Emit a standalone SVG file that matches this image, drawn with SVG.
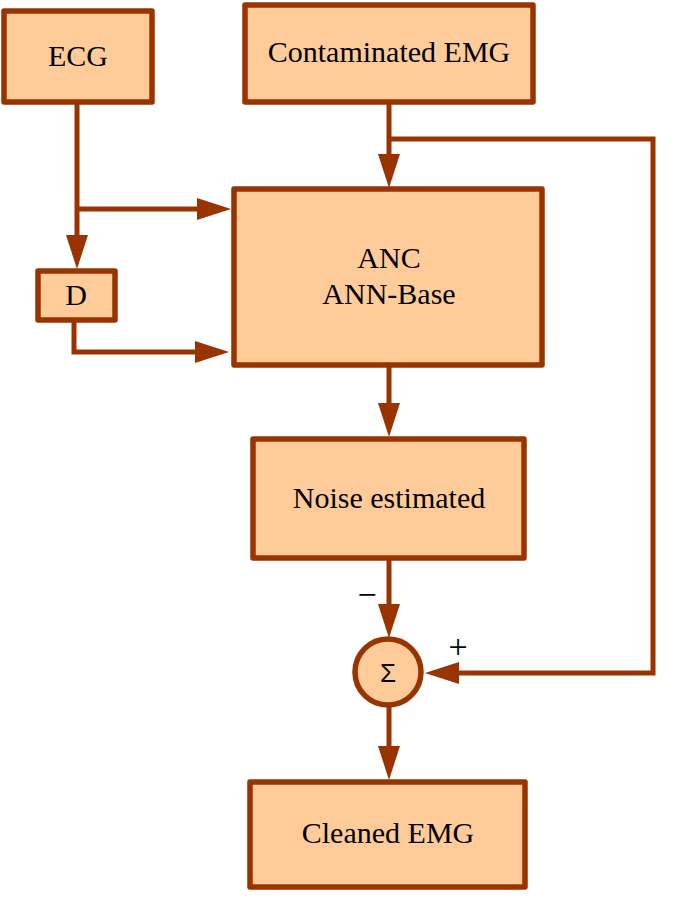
<svg xmlns="http://www.w3.org/2000/svg" width="680" height="904" viewBox="0 0 680 904">
<style>
.box{fill:#FFCC99;stroke:#993300;stroke-width:5.5;stroke-linejoin:round}
.lbl{font-family:"Liberation Serif","Times New Roman",serif;font-size:30px;fill:#000;text-anchor:middle}
.sig{font-family:"Liberation Sans",Arial,sans-serif;font-size:26px;fill:#000;text-anchor:middle}
.sign{font-family:"Liberation Serif","Times New Roman",serif;font-size:34px;fill:#000;text-anchor:middle}
.wire{fill:none;stroke:#993300;stroke-width:5;stroke-linejoin:miter;marker-end:url(#ah)}
</style>
<defs>
<marker id="ah" markerUnits="userSpaceOnUse" markerWidth="36" markerHeight="24" viewBox="0 -12 36 24" refX="0" refY="0" orient="auto">
<path d="M0,-11 L34,0 L0,11 z" fill="#993300"/>
</marker>
</defs>
<g id="connectors">
<path class="wire" d="M77,104 V235"/>
<path class="wire" d="M77,209 H197"/>
<path class="wire" d="M74,322 V352 H195"/>
<path class="wire" d="M389,104 V154"/>
<path class="wire" d="M389,139 H653 V673 H459"/>
<path class="wire" d="M389,367 V403"/>
<path class="wire" d="M389,560 V604"/>
<path class="wire" d="M389,707 V746"/>
</g>
<g id="ecg"><rect class="box" x="4" y="11" width="148" height="91"/><text class="lbl" x="78" y="66">ECG</text></g>
<g id="contaminated"><rect class="box" x="245" y="5" width="288" height="97"/><text class="lbl" x="389" y="62">Contaminated EMG</text></g>
<g id="anc"><rect class="box" x="234" y="189" width="308" height="176"/><text class="lbl" x="389" y="268">ANC</text><text class="lbl" x="389" y="304">ANN-Base</text></g>
<g id="delay"><rect class="box" x="38" y="271" width="77" height="49"/><text class="lbl" x="76" y="305">D</text></g>
<g id="noise"><rect class="box" x="253" y="439" width="271" height="119"/><text class="lbl" x="389" y="508">Noise estimated</text></g>
<g id="sum"><circle class="box" cx="388" cy="672" r="33"/><text class="sig" x="388" y="682">Σ</text></g>
<g id="cleaned"><rect class="box" x="250" y="782" width="275" height="105"/><text class="lbl" x="388" y="843">Cleaned EMG</text></g>
<g id="signs"><text class="sign" x="367" y="606">−</text><text class="sign" x="458" y="658">+</text></g>
</svg>
